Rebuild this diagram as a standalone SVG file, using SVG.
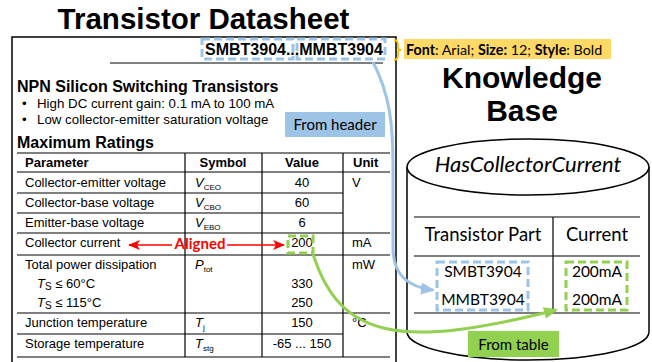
<svg xmlns="http://www.w3.org/2000/svg" width="652" height="362" viewBox="0 0 652 362">
<defs>
<style>
.ar{font-family:"Liberation Sans",Arial,sans-serif;fill:#000}
.cal{font-family:Lato,"Open Sans",sans-serif;fill:#000}
.t{font-size:13px}
.b{font-weight:bold}
.it{font-style:italic}
.sub{font-size:8px;font-style:normal}
.mid{text-anchor:middle}
.ln{stroke:#000;stroke-width:1.2;fill:none}
.dashB{fill:none;stroke:#9DC3E6;stroke-width:3;stroke-dasharray:8 4}
.dashG{fill:none;stroke:#92D050;stroke-width:3;stroke-dasharray:8 4}
</style>
<marker id="mb" markerWidth="14" markerHeight="12" refX="12" refY="6" orient="auto" markerUnits="userSpaceOnUse"><path d="M0,0 L14,6 L0,12 z" fill="#9DC3E6"/></marker>
<marker id="mg" markerWidth="14" markerHeight="12" refX="12" refY="6" orient="auto" markerUnits="userSpaceOnUse"><path d="M0,0 L14,6 L0,12 z" fill="#92D050"/></marker>
<marker id="mr" markerWidth="12" markerHeight="10" refX="11" refY="5" orient="auto" markerUnits="userSpaceOnUse"><path d="M0,0 L12,5 L0,10 L3,5 z" fill="#FF0000"/></marker>
</defs>

<g id="title">
<text class="ar b mid" x="203.5" y="29" font-size="29.5">Transistor Datasheet</text>
</g>

<g id="datasheet">
<rect x="12" y="37" width="384" height="340" fill="#fff" stroke="#000" stroke-width="1.5"/>
<text class="ar b" x="205" y="55" font-size="16">SMBT3904...MMBT3904</text>
<line class="ln" x1="110" y1="63" x2="383" y2="63"/>
<text class="ar b" x="17" y="92" font-size="16">NPN Silicon Switching Transistors</text>
<text class="ar" x="22" y="108" font-size="13.3">•</text>
<text class="ar" x="37" y="108" font-size="13.3">High DC current gain: 0.1 mA to 100 mA</text>
<text class="ar" x="22" y="124" font-size="13.3">•</text>
<text class="ar" x="37" y="124" font-size="13.3">Low collector-emitter saturation voltage</text>
<text class="ar b" x="17" y="148" font-size="16">Maximum Ratings</text>
</g>

<g id="ratings-table">
<line class="ln" x1="17" y1="153" x2="390" y2="153"/>
<line class="ln" x1="17" y1="172" x2="390" y2="172"/>
<line class="ln" x1="17" y1="193" x2="343" y2="193"/>
<line class="ln" x1="17" y1="213" x2="343" y2="213"/>
<line class="ln" x1="17" y1="233" x2="390" y2="233"/>
<line class="ln" x1="17" y1="255" x2="390" y2="255"/>
<line class="ln" x1="17" y1="313" x2="390" y2="313"/>
<line class="ln" x1="17" y1="334" x2="343" y2="334"/>
<line class="ln" x1="17" y1="357" x2="390" y2="357"/>
<line class="ln" x1="185" y1="153" x2="185" y2="357"/>
<line class="ln" x1="262" y1="153" x2="262" y2="357"/>
<line class="ln" x1="343" y1="153" x2="343" y2="357"/>

<text class="ar t b" x="25" y="167">Parameter</text>
<text class="ar t b mid" x="223" y="167">Symbol</text>
<text class="ar t b mid" x="302" y="167">Value</text>
<text class="ar t b" x="353" y="167">Unit</text>

<text class="ar t" x="25" y="187">Collector-emitter voltage</text>
<text class="ar t it" x="195" y="187">V<tspan class="sub" dy="3">CEO</tspan></text>
<text class="ar t mid" x="302" y="187">40</text>
<text class="ar t" x="352" y="187">V</text>

<text class="ar t" x="25" y="207">Collector-base voltage</text>
<text class="ar t it" x="195" y="207">V<tspan class="sub" dy="3">CBO</tspan></text>
<text class="ar t mid" x="302" y="207">60</text>

<text class="ar t" x="25" y="227">Emitter-base voltage</text>
<text class="ar t it" x="195" y="227">V<tspan class="sub" dy="3">EBO</tspan></text>
<text class="ar t mid" x="302" y="227">6</text>

<text class="ar t" x="25" y="247">Collector current</text>
<text class="ar t mid" x="302" y="247">200</text>
<text class="ar t" x="352" y="247">mA</text>

<text class="ar t" x="25" y="269">Total power dissipation</text>
<text class="ar t it" x="195" y="269">P<tspan class="sub" dy="3">tot</tspan></text>
<text class="ar t" x="352" y="269">mW</text>
<text class="ar t it" x="37" y="288">T<tspan font-size="10" font-style="normal" dy="2">S</tspan><tspan font-style="normal" dy="-2"> ≤ 60°C</tspan></text>
<text class="ar t mid" x="302" y="288">330</text>
<text class="ar t it" x="37" y="307">T<tspan font-size="10" font-style="normal" dy="2">S</tspan><tspan font-style="normal" dy="-2"> ≤ 115°C</tspan></text>
<text class="ar t mid" x="302" y="307">250</text>

<text class="ar t" x="25" y="327">Junction temperature</text>
<text class="ar t it" x="195" y="327">T<tspan class="sub" dy="3">j</tspan></text>
<text class="ar t mid" x="302" y="327">150</text>
<text class="ar t" x="352" y="327">°C</text>

<text class="ar t" x="25" y="348">Storage temperature</text>
<text class="ar t it" x="195" y="348">T<tspan class="sub" dy="3">stg</tspan></text>
<text class="ar t mid" x="302" y="348">-65 ... 150</text>
</g>

<g id="header-highlight">
<rect class="dashB" x="202" y="39" width="91" height="20"/>
<rect class="dashB" x="297" y="39" width="88" height="20"/>
</g>

<g id="value-highlight">
<rect class="dashG" x="288" y="236" width="25" height="17"/>
</g>

<g id="font-note">
<path d="M394,40 Q398,40 398,45 L398,48 Q398,50 401,50 Q398,50 398,52 L398,55 Q398,60 394,60" fill="none" stroke="#FFC000" stroke-width="1.8"/>
<rect x="404" y="39" width="207" height="20" fill="#FFD966"/>
<text class="cal" x="406" y="55" font-size="14.3"><tspan font-weight="bold">Font</tspan>: Arial; <tspan font-weight="bold">Size:</tspan> 12; <tspan font-weight="bold">Style</tspan>: Bold</text>
</g>

<g id="kb-title">
<text class="ar b mid" x="522" y="88" font-size="30">Knowledge</text>
<text class="ar b mid" x="522" y="121" font-size="30">Base</text>
</g>

<g id="knowledge-base">
<path d="M407,167 L407,332 A121,28 0 0 0 649,332 L649,167" fill="#fff" stroke="#000" stroke-width="1.5"/>
<ellipse cx="528" cy="167" rx="121" ry="28" fill="#fff" stroke="#000" stroke-width="1.5"/>
<text class="cal it mid" x="528" y="172" font-size="22">HasCollectorCurrent</text>
<line class="ln" x1="414" y1="217" x2="640" y2="217"/>
<line class="ln" x1="414" y1="256" x2="640" y2="256"/>
<line class="ln" x1="414" y1="313" x2="640" y2="313"/>
<line class="ln" x1="553" y1="217" x2="553" y2="313"/>
<text class="cal mid" x="483" y="241" font-size="18.5">Transistor Part</text>
<text class="cal mid" x="597" y="241" font-size="18.5">Current</text>
<text class="cal mid" x="483" y="277" font-size="15.5">SMBT3904</text>
<text class="cal mid" x="483" y="305" font-size="15.5">MMBT3904</text>
<text class="cal mid" x="597" y="277" font-size="15.5">200mA</text>
<text class="cal mid" x="597" y="305" font-size="15.5">200mA</text>
<rect class="dashB" x="437" y="262" width="91" height="48"/>
<rect class="dashG" x="566" y="262" width="61" height="48"/>
</g>

<g id="connectors">
<path d="M373,62 C390,95 393,125 393,165 L393,248 C393,275 408,287 433,290" fill="none" stroke="#9DC3E6" stroke-width="3" marker-end="url(#mb)"/>
<path d="M313,254 C340,338 398,350 556,310" fill="none" stroke="#92D050" stroke-width="3" marker-end="url(#mg)"/>
<line x1="172" y1="245" x2="129" y2="245" stroke="#FF0000" stroke-width="1.6" marker-end="url(#mr)"/>
<line x1="227" y1="245" x2="284" y2="245" stroke="#FF0000" stroke-width="1.6" marker-end="url(#mr)"/>
</g>

<g id="label-aligned">
<text class="cal b mid" x="200" y="249" font-size="15" style="fill:#FF0000">Aligned</text>
</g>

<g id="label-from-header">
<rect x="285" y="112" width="100" height="25" fill="#9DC3E6"/>
<text class="cal mid" x="335" y="130" font-size="15">From header</text>
</g>

<g id="label-from-table">
<rect x="468" y="331" width="91" height="26" fill="#92D050"/>
<text class="cal mid" x="513.5" y="350" font-size="15">From table</text>
</g>
</svg>
